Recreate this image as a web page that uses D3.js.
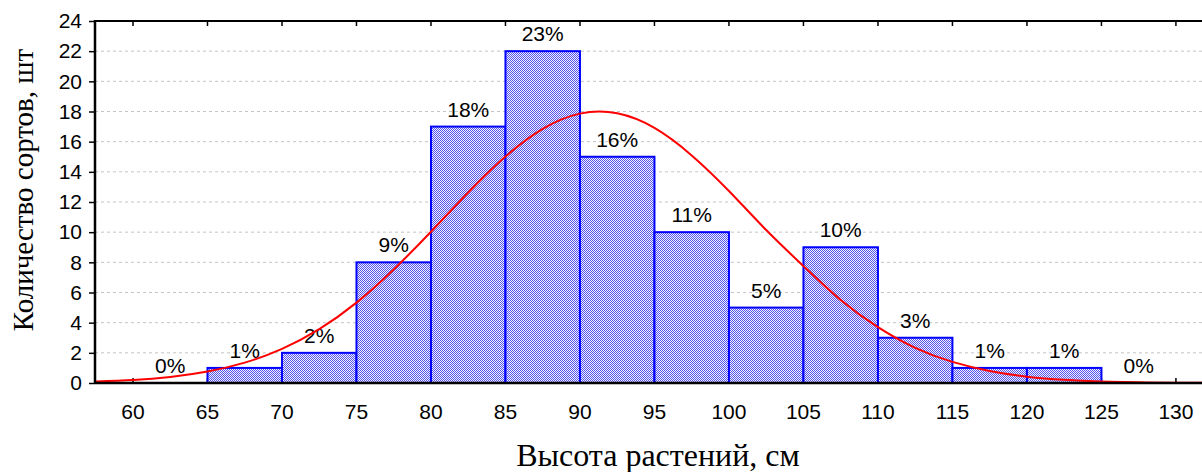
<!DOCTYPE html>
<html>
<head>
<meta charset="utf-8">
<script src="https://cdn.jsdelivr.net/npm/d3@7"></script>
<style>
  body { margin: 0; background: #fff; }
  svg { display: block; }
</style>
</head>
<body>
<div id="chart"></div>
<script>
// histogram bins (lower edge) and counts
const binStart = [60, 65, 70, 75, 80, 85, 90, 95, 100, 105, 110, 115, 120, 125];
const binCount = [0, 1, 2, 8, 17, 22, 15, 10, 5, 9, 3, 1, 1, 0];
const binLabel = ['0%', '1%', '2%', '9%', '18%', '23%', '16%', '11%', '5%', '10%', '3%', '1%', '1%', '0%'];
const binWidth = 5;

// fitted normal curve
const curveX = [57.5, 60, 62.5, 65, 67.5, 70, 72.5, 75, 77.5, 80, 82.5, 85, 87.5, 90, 92.5,
  95, 97.5, 100, 102.5, 105, 107.5, 110, 112.5, 115, 117.5, 120, 122.5, 125, 127.5, 130, 131.8];
const curveY = [0.1, 0.2, 0.4, 0.76, 1.35, 2.26, 3.57, 5.33, 7.53, 10.03, 12.63, 15.01, 16.85, 17.86, 17.88,
  16.91, 15.09, 12.73, 10.14, 7.75, 5.5, 3.7, 2.33, 1.4, 0.8, 0.42, 0.21, 0.1, 0.045, 0.02, 0.01];

const xTicks = [60, 65, 70, 75, 80, 85, 90, 95, 100, 105, 110, 115, 120, 125, 130];
const yTicks = [0, 2, 4, 6, 8, 10, 12, 14, 16, 18, 20, 22, 24];

const xTitle = 'Высота растений, см';
const yTitle = 'Количество сортов, шт';

const W = 1202, H = 472;
const plotLeft = 95, plotRight = 1202, plotTop = 21, plotBottom = 383;
const sans = 'Liberation Sans, Arial, sans-serif';
const serif = 'Liberation Serif, Times New Roman, serif';

const svg = d3.select('#chart').append('svg')
  .attr('width', W).attr('height', H);

// checker hatch used for bar fill
const pat = svg.append('defs').append('pattern')
  .attr('id', 'hatch')
  .attr('patternUnits', 'userSpaceOnUse')
  .attr('width', 2).attr('height', 2);
pat.append('rect').attr('width', 2).attr('height', 2).attr('fill', '#f4f4ff');
pat.append('rect').attr('x', 0).attr('y', 0).attr('width', 1).attr('height', 1).attr('fill', '#5454ec');
pat.append('rect').attr('x', 1).attr('y', 1).attr('width', 1).attr('height', 1).attr('fill', '#5454ec');

const x = d3.scaleLinear().domain([57.45, 131.75]).range([plotLeft, plotRight]);
const y = d3.scaleLinear().domain([0, 24]).range([plotBottom, plotTop]);

// dotted grid
svg.append('g')
  .selectAll('line')
  .data(yTicks.filter(d => d > 0 && d < 24))
  .enter().append('line')
  .attr('x1', plotLeft).attr('x2', plotRight)
  .attr('y1', d => y(d)).attr('y2', d => y(d))
  .attr('stroke', '#c4c4c4')
  .attr('stroke-width', 1)
  .attr('stroke-dasharray', '3,3');

// inner tick marks at bottom (hidden under bars where present)
svg.append('g')
  .selectAll('line')
  .data(xTicks)
  .enter().append('line')
  .attr('x1', d => x(d)).attr('x2', d => x(d))
  .attr('y1', plotBottom).attr('y2', plotBottom - 5)
  .attr('stroke', '#000').attr('stroke-width', 1.5);

// bars
svg.append('g')
  .selectAll('rect')
  .data(binStart.map((s, i) => ({ s: s, n: binCount[i] })).filter(d => d.n > 0))
  .enter().append('rect')
  .attr('x', d => x(d.s))
  .attr('y', d => y(d.n))
  .attr('width', d => x(d.s + binWidth) - x(d.s))
  .attr('height', d => y(0) - y(d.n))
  .attr('fill', 'url(#hatch)')
  .attr('stroke', '#0000ff')
  .attr('stroke-width', 2);

// percent labels
svg.append('g')
  .selectAll('text')
  .data(binStart.map((s, i) => ({ s: s, n: binCount[i], t: binLabel[i] })))
  .enter().append('text')
  .attr('x', d => x(d.s + binWidth / 2))
  .attr('y', d => y(d.n) - 10)
  .attr('text-anchor', 'middle')
  .attr('font-family', sans)
  .attr('font-size', 21)
  .attr('fill', '#000')
  .text(d => d.t);

// normal curve
const line = d3.line()
  .x((d, i) => x(curveX[i]))
  .y(d => y(d))
  .curve(d3.curveNatural);
svg.append('path')
  .datum(curveY)
  .attr('d', line)
  .attr('fill', 'none')
  .attr('stroke', '#ff0000')
  .attr('stroke-width', 2);

// frame: left, top, bottom
svg.append('line').attr('x1', plotLeft).attr('x2', plotRight).attr('y1', plotBottom).attr('y2', plotBottom)
  .attr('stroke', '#000').attr('stroke-width', 2.5);
svg.append('line').attr('x1', plotLeft).attr('x2', plotRight).attr('y1', plotTop).attr('y2', plotTop)
  .attr('stroke', '#000').attr('stroke-width', 2);
svg.append('line').attr('x1', plotLeft).attr('x2', plotLeft).attr('y1', plotTop - 1).attr('y2', plotBottom + 1)
  .attr('stroke', '#000').attr('stroke-width', 2.5);

// top ticks
svg.append('g')
  .selectAll('line')
  .data(xTicks)
  .enter().append('line')
  .attr('x1', d => x(d)).attr('x2', d => x(d))
  .attr('y1', plotTop).attr('y2', plotTop + 5)
  .attr('stroke', '#000').attr('stroke-width', 1.5);

// y axis ticks and labels
const yAxis = svg.append('g')
  .attr('transform', 'translate(' + plotLeft + ',0)')
  .call(d3.axisLeft(y).tickValues(yTicks).tickSize(6).tickPadding(7));
yAxis.select('.domain').remove();
yAxis.selectAll('.tick line').attr('stroke', '#000').attr('stroke-width', 1.5);
yAxis.selectAll('.tick text')
  .attr('font-family', sans)
  .attr('font-size', 21)
  .attr('fill', '#000');

// x tick labels
svg.append('g')
  .selectAll('text')
  .data(xTicks)
  .enter().append('text')
  .attr('x', d => x(d))
  .attr('y', 419)
  .attr('text-anchor', 'middle')
  .attr('font-family', sans)
  .attr('font-size', 21)
  .attr('fill', '#000')
  .text(d => d);

// titles
svg.append('text')
  .attr('x', 658).attr('y', 466)
  .attr('text-anchor', 'middle')
  .attr('font-family', serif)
  .attr('font-size', 32)
  .attr('fill', '#000')
  .text(xTitle);

svg.append('text')
  .attr('transform', 'translate(33,190) rotate(-90)')
  .attr('text-anchor', 'middle')
  .attr('font-family', serif)
  .attr('font-size', 29)
  .attr('fill', '#000')
  .text(yTitle);
</script>
</body>
</html>
